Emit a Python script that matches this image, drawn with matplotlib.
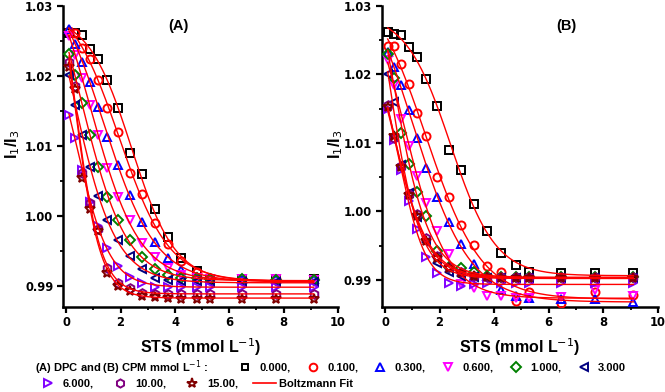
import numpy as np
import matplotlib
matplotlib.use("Agg")
import matplotlib.pyplot as plt
from matplotlib.lines import Line2D

# ---------------- data ----------------
sts = [0.1, 0.33, 0.59, 0.87, 1.18, 1.5, 1.9, 2.36, 2.79, 3.25, 3.75, 4.24, 4.8, 5.28, 6.45, 7.7, 9.1]

conc_labels = ["0.000,", "0.100,", "0.300,", "0.600,", "1.000,", "3.000", "6.000,", "10.00,", "15.00,"]

a_000 = [1.0262, 1.0261, 1.0259, 1.0239, 1.0224, 1.0194, 1.0154, 1.0090, 1.0060, 1.0010, 0.9970, 0.9940, 0.9922, 0.9910, 0.9910, 0.9910, 0.9910]
a_010 = [1.0264, 1.0261, 1.0240, 1.0224, 1.0194, 1.0154, 1.0120, 1.0061, 1.0031, 0.9990, 0.9960, 0.9936, 0.9920, 0.9912, 0.9910, 0.9910, 0.9910]
a_030 = [1.0267, 1.0245, 1.0220, 1.0192, 1.0155, 1.0113, 1.0073, 1.0030, 0.9992, 0.9963, 0.9940, 0.9923, 0.9913, 0.9911, 0.9910, 0.9910, 0.9910]
a_060 = [1.0257, 1.0230, 1.0197, 1.0159, 1.0116, 1.0068, 1.0027, 0.9994, 0.9962, 0.9941, 0.9925, 0.9915, 0.9911, 0.9910, 0.9910, 0.9910, 0.9909]
a_100 = [1.0232, 1.0201, 1.0161, 1.0116, 1.0070, 1.0027, 0.9994, 0.9966, 0.9942, 0.9924, 0.9915, 0.9912, 0.9911, 0.9910, 0.9910, 0.9909, 0.9909]
a_300 = [1.0201, 1.0159, 1.0116, 1.0070, 1.0029, 0.9994, 0.9966, 0.9943, 0.9924, 0.9912, 0.9908, 0.9907, 0.9907, 0.9906, 0.9906, 0.9906, 0.9906]
a_600 = [1.0144, 1.0111, 1.0066, 1.0020, 0.9985, 0.9954, 0.9929, 0.9913, 0.9904, 0.9899, 0.9899, 0.9899, 0.9899, 0.9899, 0.9899, 0.9899, 0.9899]
a_1000 = [1.0220, 1.0185, 1.0061, 1.0018, 0.9982, 0.9925, 0.9904, 0.9897, 0.9890, 0.9889, 0.9889, 0.9889, 0.9889, 0.9889, 0.9889, 0.9889, 0.9889]
a_1500 = [1.0213, 1.0182, 1.0054, 1.0010, 0.9978, 0.9918, 0.9900, 0.9893, 0.9886, 0.9884, 0.9883, 0.9882, 0.9882, 0.9882, 0.9882, 0.9882, 0.9882]

b_000 = [1.0262, 1.0259, 1.0258, 1.0240, 1.0225, 1.0194, 1.0154, 1.0090, 1.0060, 1.0011, 0.9971, 0.9940, 0.9922, 0.9911, 0.9910, 0.9910, 0.9910]
b_010 = [1.0241, 1.0241, 1.0215, 1.0186, 1.0144, 1.0110, 1.0050, 1.0021, 0.9981, 0.9951, 0.9920, 0.9912, 0.9870, 0.9883, 0.9866, 0.9882, 0.9878]
b_030 = [1.0233, 1.0211, 1.0185, 1.0148, 1.0107, 1.0063, 1.0021, 0.9984, 0.9953, 0.9924, 0.9906, 0.9886, 0.9877, 0.9873, 0.9872, 0.9872, 0.9868]
b_060 = [1.0221, 1.0185, 1.0135, 1.0095, 1.0052, 1.0012, 0.9971, 0.9938, 0.9894, 0.9889, 0.9877, 0.9877, 0.9873, 0.9874, 0.9875, 0.9885, 0.9877]
b_100 = [1.0230, 1.0195, 1.0114, 1.0070, 1.0029, 0.9993, 0.9943, 0.9919, 0.9917, 0.9912, 0.9906, 0.9905, 0.9905, 0.9905, 0.9905, 0.9905, 0.9905]
b_300 = [1.0200, 1.0160, 1.0068, 1.0027, 0.9992, 0.9955, 0.9925, 0.9912, 0.9906, 0.9904, 0.9903, 0.9903, 0.9903, 0.9903, 0.9903, 0.9903, 0.9903]
b_600 = [1.0150, 1.0105, 1.0060, 1.0015, 0.9975, 0.9934, 0.9910, 0.9896, 0.9891, 0.9894, 0.9895, 0.9895, 0.9895, 0.9896, 0.9896, 0.9896, 0.9895]
b_1000 = [1.0155, 1.0108, 1.0067, 1.0026, 0.9997, 0.9961, 0.9935, 0.9919, 0.9911, 0.9906, 0.9904, 0.9904, 0.9904, 0.9904, 0.9904, 0.9904, 0.9904]
b_1500 = [1.0153, 1.0110, 1.0065, 1.0024, 0.9993, 0.9957, 0.9932, 0.9917, 0.9910, 0.9906, 0.9904, 0.9903, 0.9903, 0.9903, 0.9903, 0.9903, 0.9903]

panel_a = [a_000, a_010, a_030, a_060, a_100, a_300, a_600, a_1000, a_1500]
panel_b = [b_000, b_010, b_030, b_060, b_100, b_300, b_600, b_1000, b_1500]

# ---------------- styles ----------------
markers = ["s", "o", "^", "v", "D", "<", ">", "h", "*"]
colors = ["#000000", "#FF0000", "#0000FF", "#FF00FF", "#008000", "#000080", "#8000FF", "#800080", "#800000"]
msizes = [5.2, 5.8, 6.3, 6.3, 5.2, 6.3, 6.3, 6.2, 7.2]
FIT = "#FF0000"

TXT = "Liberation Sans"


def boltzmann_fit(x, y):
    x = np.asarray(x, float)
    y = np.asarray(y, float)
    x0g = np.linspace(-1.5, 5.0, 261)[:, None, None]
    dxg = np.linspace(0.08, 2.5, 122)[None, :, None]
    s = 1.0 / (1.0 + np.exp((x[None, None, :] - x0g) / dxg))
    t = 1.0 - s
    ss = (s * s).sum(-1); tt = (t * t).sum(-1); st = (s * t).sum(-1)
    sy = (s * y).sum(-1); ty = (t * y).sum(-1)
    det = ss * tt - st * st
    det = np.where(np.abs(det) < 1e-14, 1e-14, det)
    A1 = (sy * tt - ty * st) / det
    A2 = (ty * ss - sy * st) / det
    res = ((A1[..., None] * s + A2[..., None] * t - y) ** 2).sum(-1)
    i, j = np.unravel_index(np.argmin(res), res.shape)
    return A1[i, j], A2[i, j], x0g[i, 0, 0], dxg[0, j, 0]


fig = plt.figure(figsize=(6.65, 3.92), dpi=100)
W, H = 665.0, 392.0

axA = fig.add_axes([63 / W, 1 - 306.7 / H, (338 - 63) / W, (306.7 - 6) / H])
axB = fig.add_axes([381.7 / W, 1 - 306.7 / H, (658 - 381.7) / W, (306.7 - 6) / H])

xf = np.linspace(min(sts), max(sts), 400)

for ax, data, ylim, tag, tagx, labx in [(axA, panel_a, (0.98704, 1.03), "(A)", 0.42, -0.148),
                                        (axB, panel_b, (0.9861, 1.03), "(B)", 0.667, -0.133)]:
    for k, ys in enumerate(data):
        ax.plot(sts, ys, linestyle="none", marker=markers[k], ms=msizes[k],
                mfc="none", mec=colors[k], mew=1.4, zorder=3)
    for k, ys in enumerate(data):
        A1, A2, x0, dx = boltzmann_fit(sts, ys)
        yf = A2 + (A1 - A2) / (1 + np.exp((xf - x0) / dx))
        ax.plot(xf, yf, color=FIT, lw=1.0, zorder=4)
    ax.set_xlim(-0.12, 10)
    ax.set_ylim(*ylim)
    ax.set_xticks([0, 2, 4, 6, 8, 10])
    ax.set_xticks([1, 3, 5, 7, 9], minor=True)
    ax.set_yticks([0.99, 1.00, 1.01, 1.02, 1.03])
    ax.set_yticks([0.995, 1.005, 1.015, 1.025], minor=True)
    ax.set_yticklabels(["0.99", "1.00", "1.01", "1.02", "1.03"])
    for s in ["top", "right"]:
        ax.spines[s].set_visible(False)
    for s in ["left", "bottom"]:
        ax.spines[s].set_linewidth(1.8)
    ax.tick_params(which="major", direction="out", length=4, width=1.6, pad=3)
    ax.tick_params(which="minor", direction="out", length=2.5, width=1.3)
    for lab in ax.get_xticklabels() + ax.get_yticklabels():
        lab.set_fontfamily("DejaVu Sans")
        lab.set_fontweight("bold")
        lab.set_fontsize(8.3)
    ax.set_xlabel("STS (mmol L$^{-1}$)", fontsize=11.5, family=TXT, fontweight="bold", labelpad=5)
    ax.set_ylabel("I$_1$/I$_3$", fontsize=11.5, family=TXT, fontweight="bold")
    ax.yaxis.set_label_coords(labx, 0.54)
    ax.text(tagx, 0.935, tag, transform=ax.transAxes, ha="center", va="center",
            fontsize=10.5, fontweight="bold", family=TXT)

# ---------------- legend ----------------
fig.text(35 / W, 1 - 368 / H, "(A) DPC and (B) CPM mmol L$^{-1}$ :", ha="left", va="center",
         fontsize=8, fontweight="bold", family=TXT)

handles = [Line2D([], [], linestyle="none", marker=markers[k], ms=msizes[k] * 0.95, mfc="none",
                  mec=colors[k], mew=1.4) for k in range(9)]
fit_handle = Line2D([], [], color=FIT, lw=1.2)

leg1 = fig.legend(handles[:6], conc_labels[:6], ncol=6, loc="center left",
                  bbox_to_anchor=(238 / W, 1 - 368 / H), frameon=False,
                  borderpad=0, borderaxespad=0, handlelength=1.2, handletextpad=0.7,
                  columnspacing=1.4, prop={"family": TXT, "weight": "bold", "size": 8})
leg2 = fig.legend(handles[6:] + [fit_handle], conc_labels[6:] + ["Boltzmann Fit"], ncol=4,
                  loc="center left", bbox_to_anchor=(36 / W, 1 - 384 / H), frameon=False,
                  borderpad=0, borderaxespad=0, handlelength=2.1, handletextpad=0.3,
                  columnspacing=1.3, prop={"family": TXT, "weight": "bold", "size": 8})

fig.savefig("out.png", dpi=100)
